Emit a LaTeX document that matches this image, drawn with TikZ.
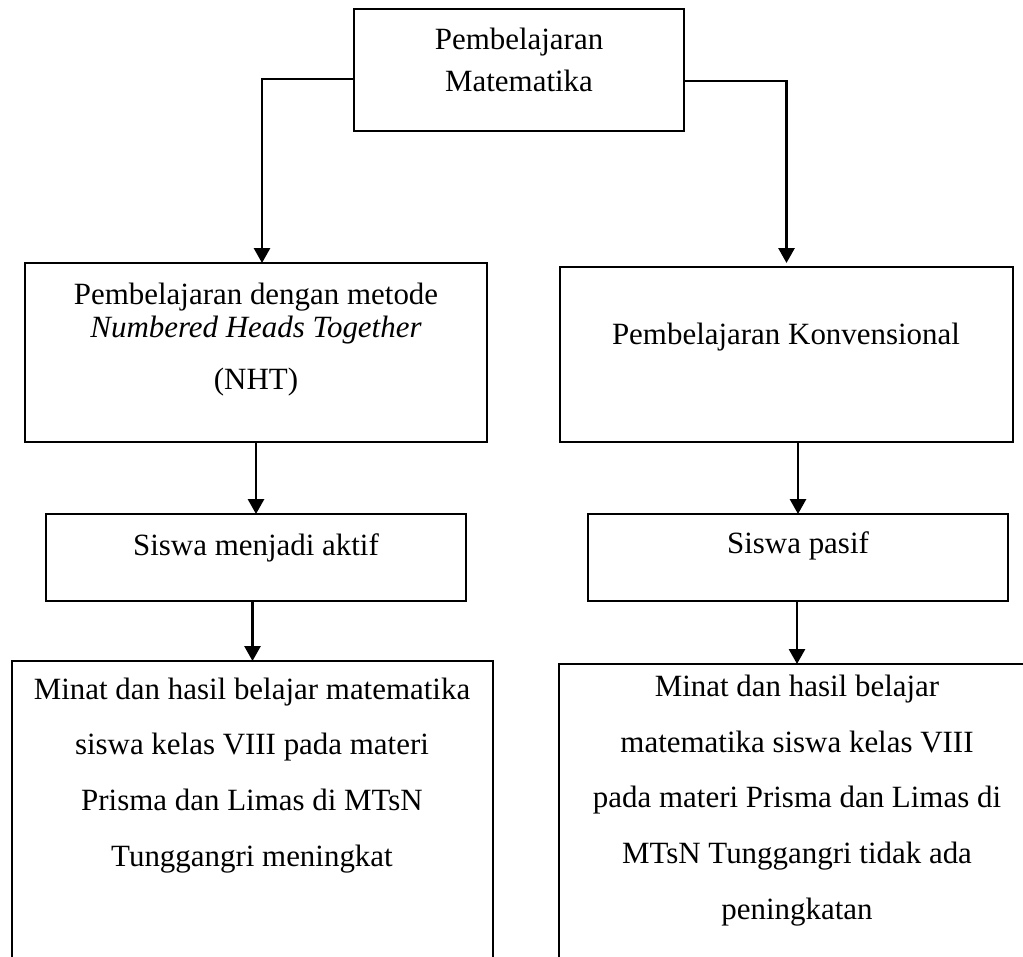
\documentclass[tikz,border=0pt]{standalone}
\usepackage{fontspec}
\setmainfont{Liberation Serif}
\usetikzlibrary{arrows.meta,positioning}
\tikzset{
  box/.style={draw=black,line width=1.3pt,inner sep=0pt,outer sep=0pt},
  txt/.style={align=center,inner sep=0pt,anchor=base,font=\fontsize{22}{29.2}\selectfont},
  txtwide/.style={txt,font=\fontsize{22}{39.5}\selectfont},
  arr/.style={draw=black,line width=1.6pt,-{Triangle[width=0.4cm,length=0.37cm]}}
}
\begin{document}
\begin{tikzpicture}[x=0.025cm,y=-0.025cm]
  \useasboundingbox (0,0) rectangle (1023,956);
  % boxes
  \node[box,minimum width=8.25cm,minimum height=3.05cm] (box1) at (519,70) {};
  \node[box,minimum width=11.55cm,minimum height=4.475cm] (box2) at (256,352.5) {};
  \node[box,minimum width=11.325cm,minimum height=4.375cm] (box3) at (786.5,354.5) {};
  \node[box,minimum width=10.5cm,minimum height=2.175cm] (box4) at (256,557.5) {};
  \node[box,minimum width=10.5cm,minimum height=2.175cm] (box5) at (798,557.5) {};
  \node[box,minimum width=12.025cm,minimum height=9cm] (box6) at (252.5,841) {};
  \node[box,minimum width=11.9cm,minimum height=8.925cm] (box7) at (797,842.5) {};
  % texts (anchored on the baseline of the last line)
  \node[txt] (text1) at (519,91) {Pembelajaran\\Matematika};
  \node[txt,font=\fontsize{22}{23.4}\selectfont] (text2) at (256,389)
    {Pembelajaran dengan metode\\\textit{Numbered Heads Together}\\[0.475cm](NHT)};
  \node[txt] (text3) at (786,344) {Pembelajaran Konvensional};
  \node[txt] (text4) at (256,555) {Siswa menjadi aktif};
  \node[txt] (text5) at (798,553) {Siswa pasif};
  \node[txtwide] (text6) at (252,866)
    {Minat dan hasil belajar matematika\\siswa kelas VIII pada materi\\Prisma dan Limas di MTsN\\Tunggangri meningkat};
  \node[txtwide] (text7) at (797,919)
    {Minat dan hasil belajar\\matematika siswa kelas VIII\\pada materi Prisma dan Limas di\\MTsN Tunggangri tidak ada\\peningkatan};
  % arrows
  \draw[arr] ([yshift=-0.225cm]box1.west) -| ([xshift=0.15cm]box2.north);
  \draw[arr,shorten >=0.1cm] ([yshift=-0.275cm]box1.east) -| (box3.north);
  \draw[arr] (box2.south) -- (box4.north);
  \draw[arr] (box5.north |- box3.south) -- (box5.north);
  \draw[arr] (box6.north |- box4.south) -- (box6.north);
  \draw[arr] (box7.north |- box5.south) -- (box7.north);
\end{tikzpicture}
\end{document}
